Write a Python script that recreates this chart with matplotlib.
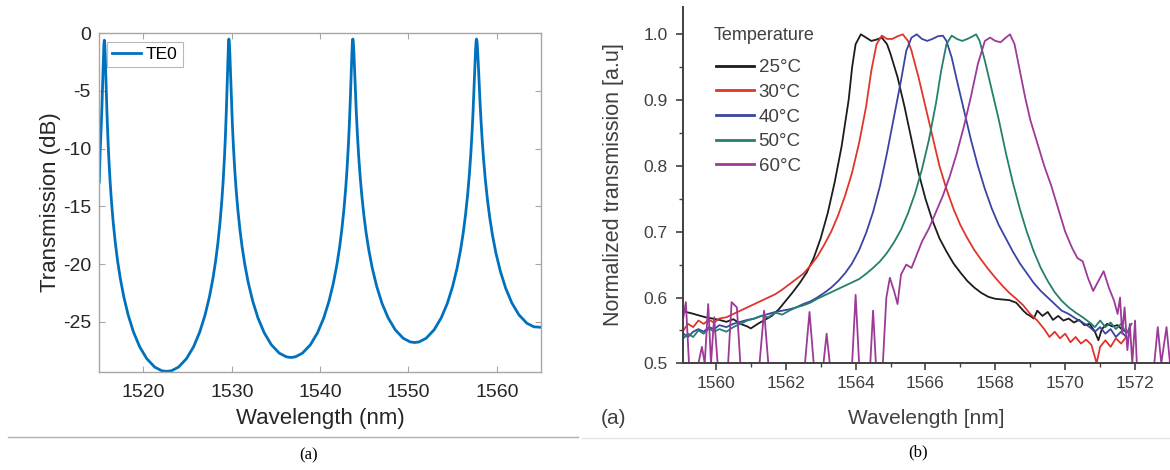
import matplotlib
matplotlib.use("Agg")
import matplotlib.pyplot as plt
from matplotlib.lines import Line2D

plt.rcParams['font.family'] = ['Liberation Sans', 'DejaVu Sans']

# ---------------- Panel (a): TE0 ring transmission ----------------
te0_wl = [1515.00, 1515.10, 1515.20, 1515.30, 1515.40, 1515.47, 1515.52, 1515.57,
          1515.62, 1515.67, 1515.72, 1515.77, 1515.87, 1515.97, 1516.07, 1516.22, 1516.37,
          1516.57, 1516.82, 1517.07, 1517.37, 1517.77, 1518.27, 1518.87, 1519.57, 1520.37,
          1521.27, 1522.07, 1522.62,
          1523.17, 1523.97, 1524.87, 1525.67, 1526.37, 1526.97, 1527.47, 1527.87, 1528.17,
          1528.42, 1528.67, 1528.87, 1529.02, 1529.17, 1529.27, 1529.37, 1529.47, 1529.52,
          1529.57, 1529.62, 1529.67,
          1529.72, 1529.77, 1529.82, 1529.87, 1529.97, 1530.07, 1530.17, 1530.32, 1530.47,
          1530.67, 1530.92, 1531.17, 1531.47, 1531.87, 1532.37, 1532.97, 1533.67, 1534.47,
          1535.37, 1536.17, 1536.69,
          1537.20, 1538.00, 1538.90, 1539.70, 1540.40, 1541.00, 1541.50, 1541.90, 1542.20,
          1542.45, 1542.70, 1542.90, 1543.05, 1543.20, 1543.30, 1543.40, 1543.50, 1543.55,
          1543.60, 1543.65, 1543.70,
          1543.75, 1543.80, 1543.85, 1543.90, 1544.00, 1544.10, 1544.20, 1544.35, 1544.50,
          1544.70, 1544.95, 1545.20, 1545.50, 1545.90, 1546.40, 1547.00, 1547.70, 1548.50,
          1549.40, 1550.20, 1550.70,
          1551.20, 1552.00, 1552.90, 1553.70, 1554.40, 1555.00, 1555.50, 1555.90, 1556.20,
          1556.45, 1556.70, 1556.90, 1557.05, 1557.20, 1557.30, 1557.40, 1557.50, 1557.55,
          1557.60, 1557.65, 1557.70,
          1557.75, 1557.80, 1557.85, 1557.90, 1558.00, 1558.10, 1558.20, 1558.35, 1558.50,
          1558.70, 1558.95, 1559.20, 1559.50, 1559.90, 1560.40, 1561.00, 1561.70, 1562.50,
          1563.40, 1564.20, 1565.00]
te0_db = [-12.9, -10.2, -8.4, -6.3, -3.7, -1.9, -0.9, -0.6,
          -0.90, -1.90, -3.19, -4.52, -6.96, -9.01, -10.71, -12.80, -14.50,
          -16.36, -18.21, -19.72, -21.22, -22.83, -24.42, -25.89, -27.17, -28.20,
          -28.93, -29.25, -29.30,
          -29.25, -28.93, -28.20, -27.17, -25.89, -24.42, -22.83, -21.22, -19.72,
          -18.21, -16.36, -14.50, -12.80, -10.71, -9.01, -6.96, -4.52, -3.19,
          -1.90, -0.90, -0.50,
          -0.80, -1.60, -2.68, -3.83, -6.06, -7.99, -9.63, -11.68, -13.36,
          -15.19, -17.03, -18.54, -20.03, -21.64, -23.22, -24.69, -25.96, -26.99,
          -27.72, -28.04, -28.10,
          -28.04, -27.72, -26.99, -25.96, -24.69, -23.22, -21.64, -20.03, -18.54,
          -17.03, -15.19, -13.36, -11.68, -9.63, -7.99, -6.06, -3.83, -2.68,
          -1.60, -0.80, -0.50,
          -0.73, -1.34, -2.21, -3.19, -5.17, -6.96, -8.52, -10.50, -12.14,
          -13.94, -15.77, -17.27, -18.75, -20.35, -21.93, -23.40, -24.67, -25.70,
          -26.43, -26.75, -26.80,
          -26.75, -26.43, -25.70, -24.67, -23.40, -21.93, -20.35, -18.75, -17.27,
          -15.77, -13.94, -12.14, -10.50, -8.52, -6.96, -5.17, -3.19, -2.21,
          -1.34, -0.73, -0.50,
          -0.67, -1.14, -1.83, -2.63, -4.35, -5.98, -7.44, -9.34, -10.93,
          -12.70, -14.50, -15.99, -17.46, -19.06, -20.63, -22.09, -23.37, -24.40,
          -25.13, -25.44, -25.48]
a_xticks = [1520, 1530, 1540, 1550, 1560]
a_yticks = [0, -5, -10, -15, -20, -25]
a_yticklabels = ['0', '-5', '-10', '-15', '-20', '-25']

# ---------------- Panel (b): temperature-dependent filter ----------------
legend_title = 'Temperature'
temps = ['25°C', '30°C', '40°C', '50°C', '60°C']

wl_25 = [1559.07, 1559.3, 1559.5, 1559.7, 1559.9, 1560.1, 1560.3, 1560.5, 1560.7, 1560.9,
         1561.0, 1561.2, 1561.4, 1561.6, 1561.8, 1562.0, 1562.2, 1562.4, 1562.6, 1562.8,
         1563.0, 1563.2, 1563.4, 1563.6, 1563.8, 1563.9, 1564.0, 1564.15, 1564.3, 1564.45,
         1564.6, 1564.75, 1564.9, 1565.0, 1565.2, 1565.4, 1565.6, 1565.8, 1566.0, 1566.2,
         1566.4, 1566.6, 1566.8, 1567.0, 1567.2, 1567.4, 1567.6, 1567.8, 1568.0, 1568.2,
         1568.4, 1568.6, 1568.8, 1568.9, 1569.0, 1569.1, 1569.2, 1569.35, 1569.5, 1569.65,
         1569.8, 1569.95, 1570.1, 1570.25, 1570.4, 1570.55, 1570.7, 1570.85, 1570.95, 1571.05,
         1571.2, 1571.35, 1571.5, 1571.65, 1571.8]
tr_25 = [0.579, 0.576, 0.573, 0.570, 0.568, 0.566, 0.563, 0.567, 0.560, 0.556,
         0.553, 0.560, 0.566, 0.572, 0.582, 0.595, 0.608, 0.622, 0.638, 0.660,
         0.690, 0.728, 0.775, 0.830, 0.900, 0.950, 0.985, 1.000, 0.995, 0.990,
         0.992, 0.995, 0.985, 0.970, 0.935, 0.890, 0.840, 0.790, 0.750, 0.717,
         0.690, 0.670, 0.652, 0.638, 0.625, 0.615, 0.607, 0.601, 0.598, 0.597,
         0.596, 0.592, 0.580, 0.575, 0.572, 0.568, 0.580, 0.572, 0.578, 0.566,
         0.572, 0.565, 0.568, 0.562, 0.566, 0.558, 0.560, 0.548, 0.535, 0.552,
         0.560, 0.556, 0.558, 0.550, 0.548]

wl_30 = [1559.07, 1559.2, 1559.35, 1559.5, 1559.65, 1559.8, 1559.95, 1560.1, 1560.3, 1560.5,
         1560.7, 1560.9, 1561.1, 1561.3, 1561.5, 1561.7, 1561.9, 1562.1, 1562.3, 1562.5,
         1562.7, 1562.9, 1563.1, 1563.3, 1563.5, 1563.7, 1563.9, 1564.1, 1564.3, 1564.45,
         1564.6, 1564.75, 1564.9, 1565.05, 1565.2, 1565.35, 1565.5, 1565.6, 1565.8, 1566.0,
         1566.2, 1566.4, 1566.6, 1566.8, 1567.0, 1567.2, 1567.4, 1567.6, 1567.8, 1568.0,
         1568.2, 1568.4, 1568.6, 1568.8, 1569.0, 1569.2, 1569.4, 1569.55, 1569.7, 1569.85,
         1570.0, 1570.15, 1570.3, 1570.45, 1570.6, 1570.75, 1570.9, 1571.0, 1571.15, 1571.3,
         1571.45, 1571.6, 1571.75]
tr_30 = [0.550, 0.560, 0.555, 0.565, 0.560, 0.566, 0.562, 0.568, 0.570, 0.575,
         0.580, 0.585, 0.590, 0.595, 0.600, 0.605, 0.612, 0.620, 0.628, 0.636,
         0.648, 0.662, 0.680, 0.700, 0.725, 0.755, 0.790, 0.835, 0.890, 0.945,
         0.985, 0.998, 0.993, 0.993, 0.997, 1.000, 0.990, 0.975, 0.935, 0.890,
         0.845, 0.800, 0.765, 0.735, 0.710, 0.690, 0.672, 0.657, 0.643, 0.630,
         0.618, 0.607, 0.598, 0.588, 0.575, 0.565, 0.552, 0.540, 0.548, 0.538,
         0.545, 0.532, 0.540, 0.530, 0.536, 0.528, 0.500, 0.525, 0.535, 0.525,
         0.538, 0.530, 0.540]

wl_40 = [1559.07, 1559.2, 1559.35, 1559.5, 1559.65, 1559.8, 1559.95, 1560.1, 1560.3, 1560.5,
         1560.7, 1560.9, 1561.1, 1561.3, 1561.5, 1561.7, 1561.9, 1562.1, 1562.3, 1562.5,
         1562.7, 1562.9, 1563.1, 1563.3, 1563.5, 1563.7, 1563.9, 1564.1, 1564.3, 1564.5,
         1564.7, 1564.9, 1565.1, 1565.3, 1565.45, 1565.6, 1565.75, 1565.9, 1566.05, 1566.2,
         1566.35, 1566.5, 1566.6, 1566.75, 1566.9, 1567.1, 1567.3, 1567.5, 1567.7, 1567.9,
         1568.1, 1568.3, 1568.5, 1568.7, 1568.9, 1569.1, 1569.3, 1569.5, 1569.7, 1569.9,
         1570.1, 1570.3, 1570.5, 1570.7, 1570.85, 1571.0, 1571.15, 1571.3, 1571.45, 1571.6,
         1571.75]
tr_40 = [0.545, 0.540, 0.548, 0.552, 0.548, 0.555, 0.552, 0.558, 0.555, 0.560,
         0.563, 0.566, 0.568, 0.572, 0.575, 0.578, 0.580, 0.582, 0.585, 0.590,
         0.594, 0.600, 0.607, 0.615, 0.625, 0.637, 0.652, 0.672, 0.698, 0.730,
         0.770, 0.820, 0.875, 0.930, 0.975, 0.995, 1.000, 0.993, 0.990, 0.993,
         0.997, 0.998, 0.990, 0.965, 0.930, 0.885, 0.840, 0.800, 0.765, 0.735,
         0.710, 0.690, 0.670, 0.652, 0.637, 0.622, 0.610, 0.600, 0.590, 0.580,
         0.575, 0.568, 0.562, 0.555, 0.548, 0.555, 0.545, 0.552, 0.540, 0.548,
         0.540]

wl_50 = [1559.07, 1559.2, 1559.35, 1559.5, 1559.65, 1559.8, 1559.95, 1560.1, 1560.3, 1560.5,
         1560.7, 1560.9, 1561.1, 1561.3, 1561.5, 1561.7, 1561.9, 1562.1, 1562.3, 1562.5,
         1562.7, 1562.9, 1563.1, 1563.3, 1563.5, 1563.7, 1563.9, 1564.1, 1564.3, 1564.5,
         1564.7, 1564.9, 1565.1, 1565.3, 1565.5, 1565.7, 1565.9, 1566.1, 1566.3, 1566.45,
         1566.6, 1566.75, 1566.9, 1567.05, 1567.2, 1567.35, 1567.45, 1567.55, 1567.7, 1567.9,
         1568.1, 1568.3, 1568.5, 1568.7, 1568.9, 1569.1, 1569.3, 1569.5, 1569.7, 1569.9,
         1570.1, 1570.3, 1570.5, 1570.7, 1570.85, 1571.0, 1571.15, 1571.3, 1571.45, 1571.6,
         1571.75, 1571.9]
tr_50 = [0.538, 0.545, 0.540, 0.550, 0.545, 0.553, 0.548, 0.552, 0.548, 0.555,
         0.560, 0.565, 0.568, 0.572, 0.570, 0.577, 0.574, 0.580, 0.585, 0.588,
         0.592, 0.598, 0.603, 0.608, 0.613, 0.618, 0.623, 0.628, 0.636, 0.645,
         0.655, 0.668, 0.684, 0.703, 0.728, 0.758, 0.795, 0.840, 0.895, 0.945,
         0.985, 0.998, 0.993, 0.990, 0.993, 0.997, 1.000, 0.990, 0.960, 0.915,
         0.870, 0.820, 0.775, 0.735, 0.700, 0.670, 0.645, 0.625, 0.608, 0.595,
         0.585, 0.577, 0.570, 0.562, 0.555, 0.565, 0.555, 0.562, 0.552, 0.560,
         0.545, 0.560]

wl_60 = [1559.07, 1559.14, 1559.23, 1559.5, 1559.6, 1559.68, 1559.78, 1559.86, 1559.95, 1560.05,
         1560.35, 1560.45, 1560.6, 1560.7, 1561.25, 1561.38, 1561.5, 1562.55, 1562.68, 1562.8,
         1563.08, 1563.17, 1563.26, 1563.9, 1564.0, 1564.1, 1564.42, 1564.5, 1564.58, 1564.78,
         1564.88, 1564.98, 1565.1, 1565.2, 1565.3, 1565.45, 1565.6, 1565.75, 1565.9, 1566.1,
         1566.3, 1566.5, 1566.7, 1566.9, 1567.1, 1567.3, 1567.5, 1567.7, 1567.85, 1568.0,
         1568.15, 1568.3, 1568.42, 1568.55, 1568.7, 1568.85, 1569.0, 1569.2, 1569.4, 1569.6,
         1569.8, 1570.0, 1570.2, 1570.35, 1570.5, 1570.65, 1570.8, 1570.95, 1571.1, 1571.25,
         1571.4, 1571.5, 1571.57, 1571.63, 1571.7, 1571.78, 1571.85, 1571.92, 1572.0, 1572.05,
         1572.55, 1572.65, 1572.75, 1572.9, 1573.0]
tr_60 = [0.570, 0.593, 0.500, 0.500, 0.525, 0.500, 0.590, 0.500, 0.570, 0.500,
         0.500, 0.593, 0.585, 0.500, 0.500, 0.580, 0.500, 0.500, 0.578, 0.500,
         0.500, 0.545, 0.500, 0.500, 0.604, 0.500, 0.500, 0.580, 0.500, 0.500,
         0.600, 0.630, 0.610, 0.590, 0.635, 0.650, 0.645, 0.665, 0.685, 0.705,
         0.730, 0.755, 0.785, 0.820, 0.860, 0.905, 0.955, 0.990, 0.995, 0.990,
         0.988, 0.995, 1.000, 0.985, 0.945, 0.905, 0.870, 0.835, 0.800, 0.770,
         0.735, 0.700, 0.675, 0.660, 0.655, 0.630, 0.610, 0.625, 0.640, 0.615,
         0.595, 0.575, 0.600, 0.545, 0.585, 0.520, 0.560, 0.500, 0.565, 0.500,
         0.500, 0.555, 0.500, 0.555, 0.500]

b_xticks = [1560, 1562, 1564, 1566, 1568, 1570, 1572]
b_yticks = [0.5, 0.6, 0.7, 0.8, 0.9, 1.0]

# ---------------- Figure ----------------
fig = plt.figure(figsize=(11.7, 4.7), dpi=100)
W, H = 1170.0, 470.0

def px_axes(x0, y0, x1, y1):
    return fig.add_axes([x0 / W, 1 - y1 / H, (x1 - x0) / W, (y1 - y0) / H])

# Panel (a)
axa = px_axes(99.3, 33.3, 541.0, 371.7)
axa.plot(te0_wl, te0_db, color='#0072BD', lw=2.0, label='TE0')
axa.set_xlim(1515, 1565)
axa.set_ylim(-29.33, 0)
axa.set_xticks(a_xticks)
axa.set_yticks(a_yticks)
axa.set_yticklabels(a_yticklabels)
for s in axa.spines.values():
    s.set_color('#a6a6a6')
    s.set_linewidth(1.0)
axa.tick_params(direction='in', length=4, width=0.8, color='#a6a6a6',
                top=True, right=True, labelsize=14, labelcolor='#262626')
axa.tick_params(axis='x', pad=9)
axa.tick_params(axis='y', pad=6)
axa.set_xlabel('Wavelength (nm)', fontsize=16, color='#262626', labelpad=5)
axa.set_ylabel('Transmission (dB)', fontsize=16, color='#262626', labelpad=1)
lega = axa.legend(loc='upper left', bbox_to_anchor=(0.0168, 0.975), borderaxespad=0,
                  fontsize=12.5, frameon=True, fancybox=False, handlelength=1.7,
                  handletextpad=0.25, borderpad=0.3)
lega.get_frame().set_edgecolor('#a6a6a6')
lega.get_frame().set_linewidth(0.8)

# Panel (b)
axb = px_axes(682.7, 6.7, 1170.0, 363.3)
b_colors = ['#1c1c1c', '#e0352b', '#3945a5', '#24806c', '#9c3a98']
b_wls = [wl_25, wl_30, wl_40, wl_50, wl_60]
b_trs = [tr_25, tr_30, tr_40, tr_50, tr_60]
for wl, tr, c, lab in zip(b_wls, b_trs, b_colors, temps):
    axb.plot(wl, tr, color=c, lw=1.3, label=lab)
axb.set_xlim(1559.05, 1573.0)
axb.set_ylim(0.5, 1.042)
axb.set_xticks(b_xticks)
axb.set_yticks(b_yticks)
axb.set_yticklabels(['0.5', '0.6', '0.7', '0.8', '0.9', '1.0'])
axb.set_xticks([1561, 1563, 1565, 1567, 1569, 1571], minor=True)
axb.set_yticks([0.55, 0.65, 0.75, 0.85, 0.95], minor=True)
axb.spines['top'].set_visible(False)
axb.spines['right'].set_visible(False)
for s in ['left', 'bottom']:
    axb.spines[s].set_color('#404040')
    axb.spines[s].set_linewidth(1.4)
axb.tick_params(which='major', direction='out', length=5, width=1.2, color='#404040',
                labelsize=12.5, labelcolor='#404040', pad=4)
axb.tick_params(axis='y', which='major', pad=6)
axb.tick_params(which='minor', direction='out', length=3, width=1.0, color='#404040')
axb.set_xlabel('Wavelength [nm]', fontsize=15, color='#404040', labelpad=13)
axb.set_ylabel('Normalized transmission [a.u]', fontsize=15.5, color='#404040', labelpad=14)
legb = axb.legend(loc='upper left', bbox_to_anchor=(0.052, 0.874), borderaxespad=0,
                  fontsize=13.5, frameon=False,
                  handlelength=2.05, handletextpad=0.25, labelspacing=0.40,
                  labelcolor='#404040')
for line in legb.get_lines():
    line.set_linewidth(2.0)
fig.text(714 / W, 1 - 35 / H, legend_title, fontsize=13, color='#404040',
         ha='left', va='center')

# panel sublabel inside (b)
fig.text(614 / W, 1 - 418 / H, '(a)', fontsize=15, color='#404040', ha='center', va='center')

# separators and captions
fig.add_artist(Line2D([7.5 / W, 578 / W], [1 - 437 / H, 1 - 437 / H], color='#b0b0b0', lw=1.0))
fig.add_artist(Line2D([582 / W, 1.0], [1 - 438 / H, 1 - 438 / H], color='#e2e2e2', lw=1.0))
fig.text(309 / W, 1 - 455 / H, '(a)', fontsize=12, family='Liberation Serif', ha='center', va='center')
fig.text(918 / W, 1 - 452 / H, '(b)', fontsize=12, family='Liberation Serif', ha='center', va='center')

fig.savefig('out.png', dpi=100)
